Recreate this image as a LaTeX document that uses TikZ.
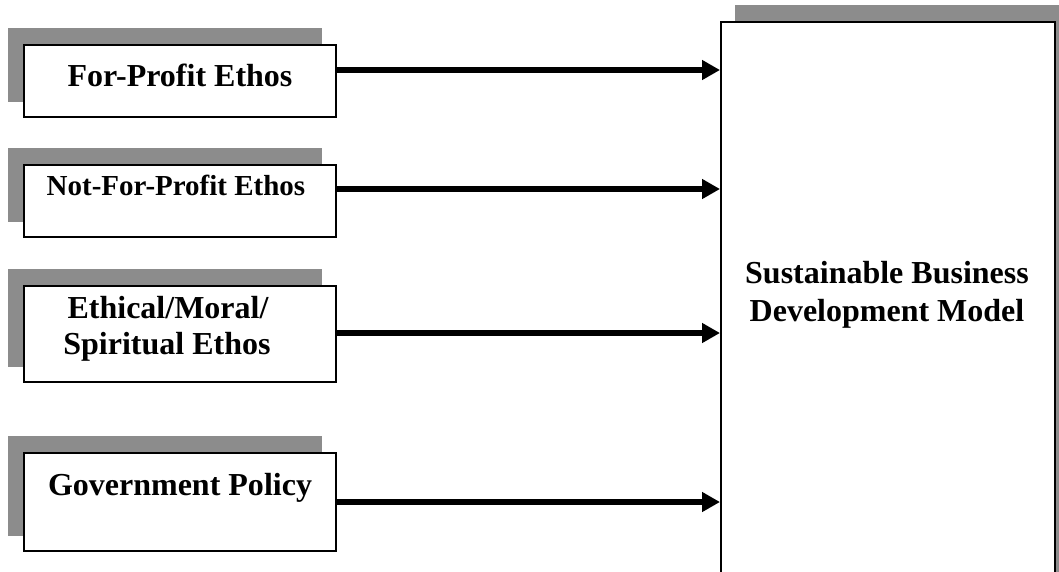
\documentclass[tikz,border=0pt]{standalone}
\usepackage{fontspec}
\setmainfont{Liberation Serif}
\usetikzlibrary{arrows.meta,backgrounds}
\tikzset{
  inbox/.style={draw=black, line width=2pt, fill=white, rectangle, inner sep=0pt, minimum width=312pt},
  bigbox/.style={draw=black, line width=2pt, fill=white, rectangle, inner sep=0pt, minimum width=334pt, minimum height=598pt},
  lbl/.style={font=\bfseries\fontsize{32}{38}\selectfont, anchor=base, inner sep=0pt},
  lblsmall/.style={font=\bfseries\fontsize{29}{35}\selectfont, anchor=base, inner sep=0pt},
  shadowfill/.style={fill=black!45},
  flow/.style={line width=6.5pt, -{Triangle[length=18pt,width=19pt]}}
}
\begin{document}
\begin{tikzpicture}[x=1pt,y=-1pt]
\useasboundingbox (0,0) rectangle (1059,571);
\begin{scope}
\clip (0,0) rectangle (1059,571);
% boxes
\node[inbox, minimum height=72pt] (b1) at (180,81) {};
\node[inbox, minimum height=72pt] (b2) at (180,201) {};
\node[inbox, minimum height=96pt] (b3) at (180,334) {};
\node[inbox, minimum height=98pt] (b4) at (180,502) {};
\node[bigbox] (big) at (888,321) {};
% shadows
\begin{scope}[on background layer]
\fill[white] (0,0) rectangle (1059,571);
\foreach \b in {b1,b2,b3,b4}{
  \fill[shadowfill] ([shift={(-15,-16)}]\b.south west) rectangle ([shift={(-15,-16)}]\b.north east);
}
\fill[shadowfill] ([shift={(15,-16)}]big.south west) rectangle ([shift={(15,-16)}]big.north east);
\end{scope}
% labels
\node[lbl] (t1) at (180,86) {For-Profit Ethos};
\node[lblsmall] (t2) at (176,195) {Not-For-Profit Ethos};
\node[lbl] (t3a) at (168,318) {Ethical/Moral/};
\node[lbl] (t3b) at (167,354) {Spiritual Ethos};
\node[lbl] (t4) at (180,495) {Government Policy};
\node[lbl] (t5a) at (887,283) {Sustainable Business};
\node[lbl] (t5b) at (887,321) {Development Model};
% arrows
\draw[flow] (b1.east |- 0,70) -- (big.west |- 0,70);
\draw[flow] (b2.east |- 0,189) -- (big.west |- 0,189);
\draw[flow] (b3.east |- 0,333) -- (big.west |- 0,333);
\draw[flow] (b4.east |- 0,502) -- (big.west |- 0,502);
\end{scope}
\end{tikzpicture}
\end{document}
